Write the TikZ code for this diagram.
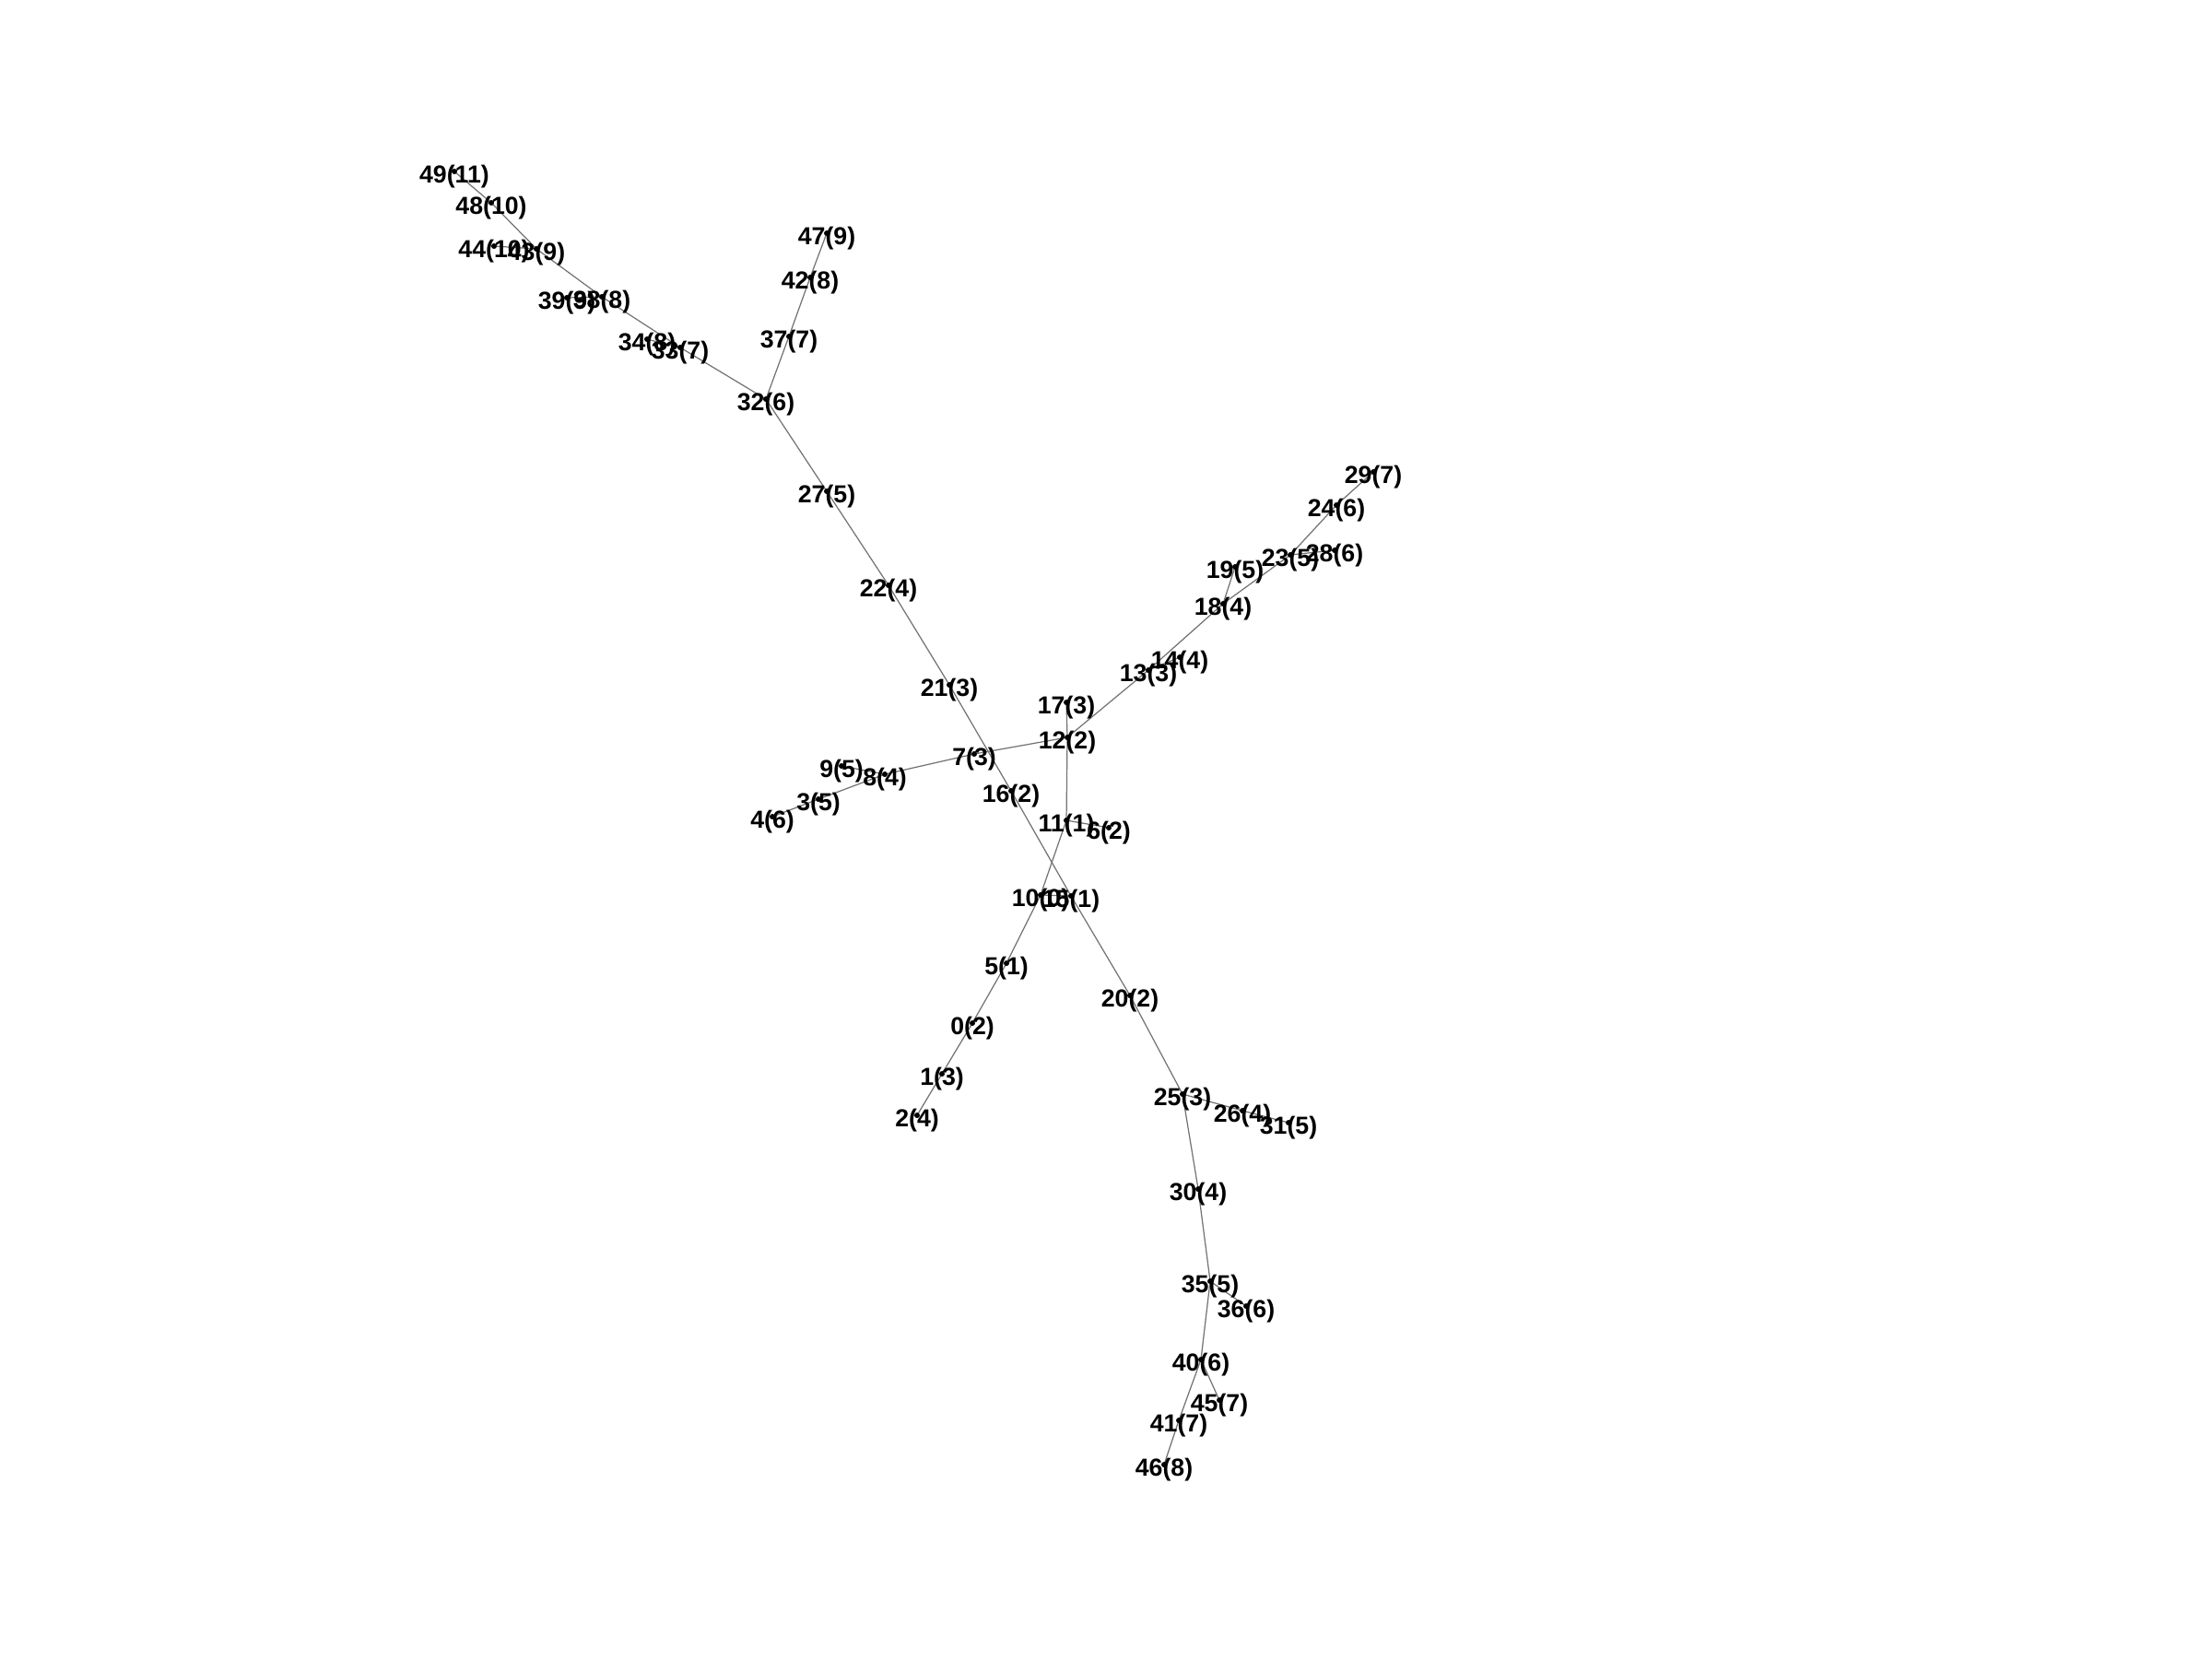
\documentclass[tikz,border=0pt]{standalone}
\usepackage{fontspec}
\setmainfont{Liberation Sans}
\usetikzlibrary{backgrounds}

\begin{document}
\begin{tikzpicture}[
    vtx/.style={circle,inner sep=0pt,minimum size=0.35mm},
    lbl/.style={font=\bfseries\fontsize{7.6}{9}\selectfont,inner sep=0pt,yshift=-0.6mm},
    edge/.style={draw=gray!90!black,line width=0.35pt}]
				\useasboundingbox (0,0) rectangle (24,-18);
				% nodes: name(depth)
				\node[vtx,label={[lbl]center:0(2)}] (n0) at (10.55,-11.10) {};
				\node[vtx,label={[lbl]center:1(3)}] (n1) at (10.22,-11.65) {};
				\node[vtx,label={[lbl]center:2(4)}] (n2) at (9.95,-12.10) {};
				\node[vtx,label={[lbl]center:3(5)}] (n3) at (8.88,-8.67) {};
				\node[vtx,label={[lbl]center:4(6)}] (n4) at (8.38,-8.86) {};
				\node[vtx,label={[lbl]center:5(1)}] (n5) at (10.92,-10.45) {};
				\node[vtx,label={[lbl]center:6(2)}] (n6) at (12.03,-8.98) {};
				\node[vtx,label={[lbl]center:7(3)}] (n7) at (10.57,-8.18) {};
				\node[vtx,label={[lbl]center:8(4)}] (n8) at (9.60,-8.40) {};
				\node[vtx,label={[lbl]center:9(5)}] (n9) at (9.13,-8.31) {};
				\node[vtx,label={[lbl]center:10(0)}] (n10) at (11.29,-9.71) {};
				\node[vtx,label={[lbl]center:11(1)}] (n11) at (11.57,-8.90) {};
				\node[vtx,label={[lbl]center:12(2)}] (n12) at (11.58,-8.00) {};
				\node[vtx,label={[lbl]center:13(3)}] (n13) at (12.46,-7.27) {};
				\node[vtx,label={[lbl]center:14(4)}] (n14) at (12.80,-7.13) {};
				\node[vtx,label={[lbl]center:15(1)}] (n15) at (11.62,-9.72) {};
				\node[vtx,label={[lbl]center:16(2)}] (n16) at (10.97,-8.58) {};
				\node[vtx,label={[lbl]center:17(3)}] (n17) at (11.57,-7.62) {};
				\node[vtx,label={[lbl]center:18(4)}] (n18) at (13.27,-6.55) {};
				\node[vtx,label={[lbl]center:19(5)}] (n19) at (13.40,-6.15) {};
				\node[vtx,label={[lbl]center:20(2)}] (n20) at (12.26,-10.80) {};
				\node[vtx,label={[lbl]center:21(3)}] (n21) at (10.30,-7.43) {};
				\node[vtx,label={[lbl]center:22(4)}] (n22) at (9.64,-6.35) {};
				\node[vtx,label={[lbl]center:23(5)}] (n23) at (14.00,-6.02) {};
				\node[vtx,label={[lbl]center:24(6)}] (n24) at (14.50,-5.48) {};
				\node[vtx,label={[lbl]center:25(3)}] (n25) at (12.83,-11.87) {};
				\node[vtx,label={[lbl]center:26(4)}] (n26) at (13.48,-12.05) {};
				\node[vtx,label={[lbl]center:27(5)}] (n27) at (8.97,-5.33) {};
				\node[vtx,label={[lbl]center:28(6)}] (n28) at (14.48,-5.97) {};
				\node[vtx,label={[lbl]center:29(7)}] (n29) at (14.90,-5.12) {};
				\node[vtx,label={[lbl]center:30(4)}] (n30) at (13.00,-12.90) {};
				\node[vtx,label={[lbl]center:31(5)}] (n31) at (13.98,-12.18) {};
				\node[vtx,label={[lbl]center:32(6)}] (n32) at (8.31,-4.33) {};
				\node[vtx,label={[lbl]center:33(7)}] (n33) at (7.38,-3.77) {};
				\node[vtx,label={[lbl]center:34(8)}] (n34) at (7.02,-3.68) {};
				\node[vtx,label={[lbl]center:35(5)}] (n35) at (13.13,-13.90) {};
				\node[vtx,label={[lbl]center:36(6)}] (n36) at (13.52,-14.17) {};
				\node[vtx,label={[lbl]center:37(7)}] (n37) at (8.56,-3.65) {};
				\node[vtx,label={[lbl]center:38(8)}] (n38) at (6.53,-3.22) {};
				\node[vtx,label={[lbl]center:39(9)}] (n39) at (6.15,-3.23) {};
				\node[vtx,label={[lbl]center:40(6)}] (n40) at (13.03,-14.75) {};
				\node[vtx,label={[lbl]center:41(7)}] (n41) at (12.79,-15.41) {};
				\node[vtx,label={[lbl]center:42(8)}] (n42) at (8.79,-3.01) {};
				\node[vtx,label={[lbl]center:43(9)}] (n43) at (5.82,-2.70) {};
				\node[vtx,label={[lbl]center:44(10)}] (n44) at (5.36,-2.67) {};
				\node[vtx,label={[lbl]center:45(7)}] (n45) at (13.23,-15.19) {};
				\node[vtx,label={[lbl]center:46(8)}] (n46) at (12.63,-15.89) {};
				\node[vtx,label={[lbl]center:47(9)}] (n47) at (8.97,-2.53) {};
				\node[vtx,label={[lbl]center:48(10)}] (n48) at (5.33,-2.20) {};
				\node[vtx,label={[lbl]center:49(11)}] (n49) at (4.93,-1.86) {};
				% tree edges
				\begin{scope}[on background layer]
				\foreach \a/\b in {10/15,10/11,10/5,11/12,11/6,12/17,12/13,12/7,13/14,13/18,
				18/19,18/23,23/24,23/28,24/29,7/8,8/9,8/3,3/4,5/0,0/1,1/2,15/16,15/20,
				16/21,21/22,22/27,27/32,32/33,32/37,37/42,42/47,33/34,33/38,38/39,38/43,
				43/44,43/48,48/49,20/25,25/26,26/31,25/30,30/35,35/36,35/40,40/45,40/41,41/46}
				\draw[edge] (n\a) -- (n\b);
				\end{scope}
				% dots on top of the labels
				\foreach \i in {0,...,49}
				\fill (n\i) circle (0.3mm);
\end{tikzpicture}
\end{document}
